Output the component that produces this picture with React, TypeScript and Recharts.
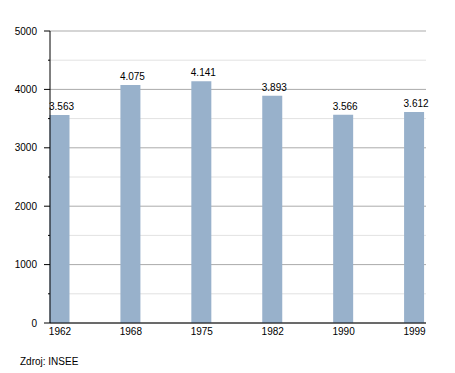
import React from 'react';
import {
  BarChart,
  Bar,
  XAxis,
  YAxis,
  CartesianGrid,
  LabelList,
} from 'recharts';

const ROKY = ['1962', '1968', '1975', '1982', '1990', '1999'];
const OBYVATELE = [3563, 4075, 4141, 3893, 3566, 3612];
const HLAVNI_HODNOTY = [0, 1000, 2000, 3000, 4000, 5000];
const VEDLEJSI_HODNOTY = [500, 1500, 2500, 3500, 4500];
const VSECHNY_HODNOTY = [0, 500, 1000, 1500, 2000, 2500, 3000, 3500, 4000, 4500, 5000];

const dados = ROKY.map((rok, i) => ({ rok, pocet: OBYVATELE[i] }));

const PISMO = '"Liberation Sans", Arial, sans-serif';

const formatTisice = (v: any) => {
  const n = Number(v);
  const tis = Math.floor(n / 1000);
  const zbytek = String(n % 1000).padStart(3, '0');
  return `${tis}.${zbytek}`;
};

const ZnackaY = (props: any) => {
  const { x, y, payload } = props;
  const hlavni = payload.value % 1000 === 0;
  const osa = x + 8;
  return (
    <g>
      <line x1={osa - (hlavni ? 6 : 2)} x2={osa} y1={y} y2={y} stroke="#000" strokeWidth={1} />
      {hlavni && (
        <text x={osa - 13} y={y} dy="0.35em" textAnchor="end" fontSize={10} fill="#000" fontFamily={PISMO}>
          {payload.value}
        </text>
      )}
    </g>
  );
};

export default function App() {
  return (
    <div style={{ position: 'absolute', left: 0, top: 0, width: 455, height: 373, background: '#fff' }}>
      <BarChart
        width={455}
        height={373}
        data={dados}
        margin={{ top: 31, right: 29, bottom: 30, left: 0 }}
      >
        <CartesianGrid vertical={false} horizontalValues={VEDLEJSI_HODNOTY} stroke="#e2e2e2" />
        <CartesianGrid vertical={false} horizontalValues={HLAVNI_HODNOTY} stroke="#ababab" />
        <XAxis
          dataKey="rok"
          padding={{ left: -25.5, right: -24 }}
          tickLine={false}
          tickSize={3}
          axisLine={{ stroke: '#000' }}
          tick={{ fontSize: 10, fill: '#000', fontFamily: PISMO }}
          interval={0}
          height={20}
        />
        <YAxis
          width={50}
          domain={[0, 5000]}
          ticks={VSECHNY_HODNOTY}
          interval={0}
          tickLine={false}
          axisLine={{ stroke: '#000' }}
          tick={<ZnackaY />}
        />
        <Bar dataKey="pocet" fill="#98b1cb" barSize={20} isAnimationActive={false}>
          <LabelList
            dataKey="pocet"
            position="top"
            offset={5}
            dx={2}
            formatter={formatTisice}
            style={{ fontSize: 10, fill: '#000', fontFamily: PISMO }}
          />
        </Bar>
      </BarChart>
      <div
        style={{
          position: 'absolute',
          left: 20,
          top: 356,
          fontSize: 10,
          fontFamily: PISMO,
          color: '#000',
          lineHeight: '12px',
        }}
      >
        Zdroj: INSEE
      </div>
    </div>
  );
}
